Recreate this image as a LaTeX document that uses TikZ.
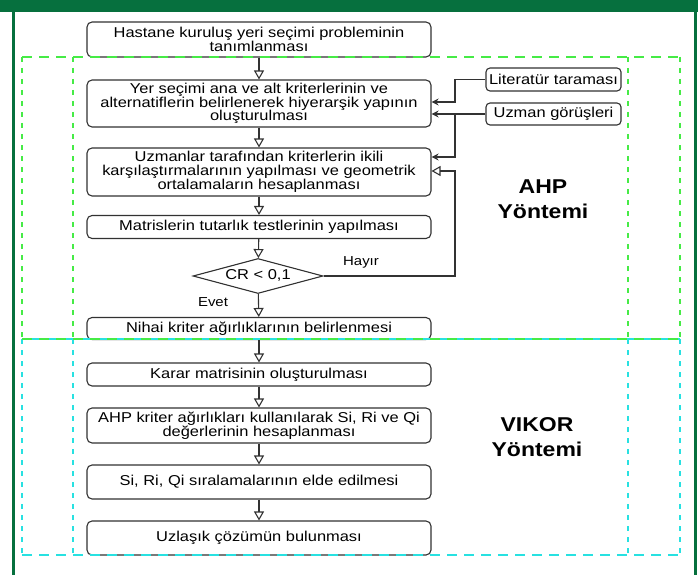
\documentclass[tikz,border=0pt]{standalone}
\usepackage{fontspec}
\setmainfont{Liberation Sans}[FakeStretch=1.15]
\usetikzlibrary{arrows.meta,shapes.geometric}
\definecolor{band}{RGB}{6,112,62}
\definecolor{dgreen}{RGB}{70,235,70}
\definecolor{dcyan}{RGB}{40,225,225}
\definecolor{edgec}{RGB}{50,50,50}
\begin{document}
\begin{tikzpicture}[x=1pt,y=-1pt,
  txt/.style={font=\fontsize{14.3}{13.8}\selectfont},
  box/.style={txt, draw=edgec, line width=1.1pt, rounded corners=5pt, minimum width=344pt, align=center, inner sep=0pt},
  sidebox/.style={txt, draw=edgec, line width=1.1pt, rounded corners=4pt, minimum width=135pt, inner sep=0pt},
  decision/.style={txt, draw=edgec, line width=1.1pt, diamond, aspect=3.8, minimum width=130pt, minimum height=35pt, inner sep=0pt},
  flow/.style={draw=edgec, line width=1.1pt, -{Triangle[open,width=10pt,length=9pt]}},
  feed/.style={draw=edgec, line width=1.1pt, -{Stealth[width=7pt,length=7pt]}},
  hgreen/.style={dgreen, line width=2.4pt, dash pattern=on 10pt off 7pt},
  vgreen/.style={dgreen, line width=2.4pt, dash pattern=on 5pt off 6pt},
  hcyan/.style={dcyan, line width=2.4pt, dash pattern=on 10pt off 7pt},
  vcyan/.style={dcyan, line width=2.4pt, dash pattern=on 5pt off 6pt},
  method/.style={font=\fontsize{20}{25}\selectfont\bfseries, align=center},
  lbl/.style={font=\fontsize{13}{15}\selectfont}
]
\useasboundingbox (0,0) rectangle (698,575);
\fill[white] (0,0) rectangle (698,575);
% frame
\fill[band] (0,0) rectangle (698,12);
\fill[band] (11.5,0) rectangle (14.5,575);
\fill[band] (693.5,0) rectangle (696.5,575);

% boxes
\node[box, minimum height=35pt] (b1) at (259,39.5) {Hastane kuruluş yeri seçimi probleminin\\tanımlanması};
\node[box, minimum height=47pt] (b2) at (259,103.5) {Yer seçimi ana ve alt kriterlerinin ve\\alternatiflerin belirlenerek hiyerarşik yapının\\oluşturulması};
\node[box, minimum height=48pt] (b3) at (259,172) {Uzmanlar tarafından kriterlerin ikili\\karşılaştırmalarının yapılması ve geometrik\\ortalamaların hesaplanması};
\node[box, minimum height=23pt] (b4) at (259,227) {Matrislerin tutarlık testlerinin yapılması};
\node[decision] (d) at (258,276) {\raisebox{3pt}{CR < 0,1}};
\node[box, minimum height=22pt] (b6) at (259,328.5) {Nihai kriter ağırlıklarının belirlenmesi};
\node[box, minimum height=23pt] (b7) at (259,374.5) {Karar matrisinin oluşturulması};
\node[box, minimum height=35pt] (b8) at (259,425.5) {AHP kriter ağırlıkları kullanılarak Si, Ri ve Qi\\değerlerinin hesaplanması};
\node[box, minimum height=34pt] (b9) at (259,482) {Si, Ri, Qi sıralamalarının elde edilmesi};
\node[box, minimum height=34pt] (b10) at (259,538) {Uzlaşık çözümün bulunması};

\node[sidebox, minimum height=23pt] (lit) at (553.5,79.5) {Literatür taraması};
\node[sidebox, minimum height=22pt] (uzm) at (553.5,114) {Uzman görüşleri};

% main flow
\draw[flow] (b1) -- (b2);
\draw[flow] (b2) -- (b3);
\draw[flow] (b3) -- (b4);
\draw[flow] (b4) -- (d);
\draw[flow] (d) -- (b6);
\draw[flow] (b6) -- (b7);
\draw[flow] (b7) -- (b8);
\draw[flow] (b8) -- (b9);
\draw[flow] (b9) -- (b10);

% inputs
\coordinate (jl) at (455,79.5);
\coordinate (jla) at (455,102);
\coordinate (ju) at (455,114);
\coordinate (jub) at (455,157);
\coordinate (jh) at (455,276);
\coordinate (jh2) at (455,171);
\draw[feed] (lit.west) -- (jl) -- (jla) -- (jla -| b2.east);
\draw[feed] (uzm.west) -- (uzm.west -| b2.east);
\draw[feed] (ju) -- (jub) -- (jub -| b3.east);
\draw[flow] (d.east) -- (jh) -- (jh2) -- (jh2 -| b3.east);

\node[lbl] (hayir) at (361,262) {Hayır};
\node[lbl] (evet) at (213,302) {Evet};

\node[method] (ahp) at (543,199) {AHP\\Yöntemi};
\node[method] (vikor) at (537,437) {VIKOR\\Yöntemi};

% method regions
\draw[vcyan] (22,339) -- (22,555);
\draw[vcyan] (73,339) -- (73,555);
\draw[vcyan] (628,339) -- (628,555);
\draw[vcyan] (680,339) -- (680,555);
\draw[hcyan] (22,555) -- (680,555);
\draw[hcyan, dash phase=8pt] (22,339) -- (680,339);
\draw[vgreen] (22,57) -- (22,339);
\draw[vgreen] (73,57) -- (73,339);
\draw[vgreen] (628,57) -- (628,339);
\draw[vgreen] (680,57) -- (680,339);
\draw[hgreen] (22,57) -- (680,57);
\draw[hgreen] (22,339) -- (680,339);
\end{tikzpicture}
\end{document}
